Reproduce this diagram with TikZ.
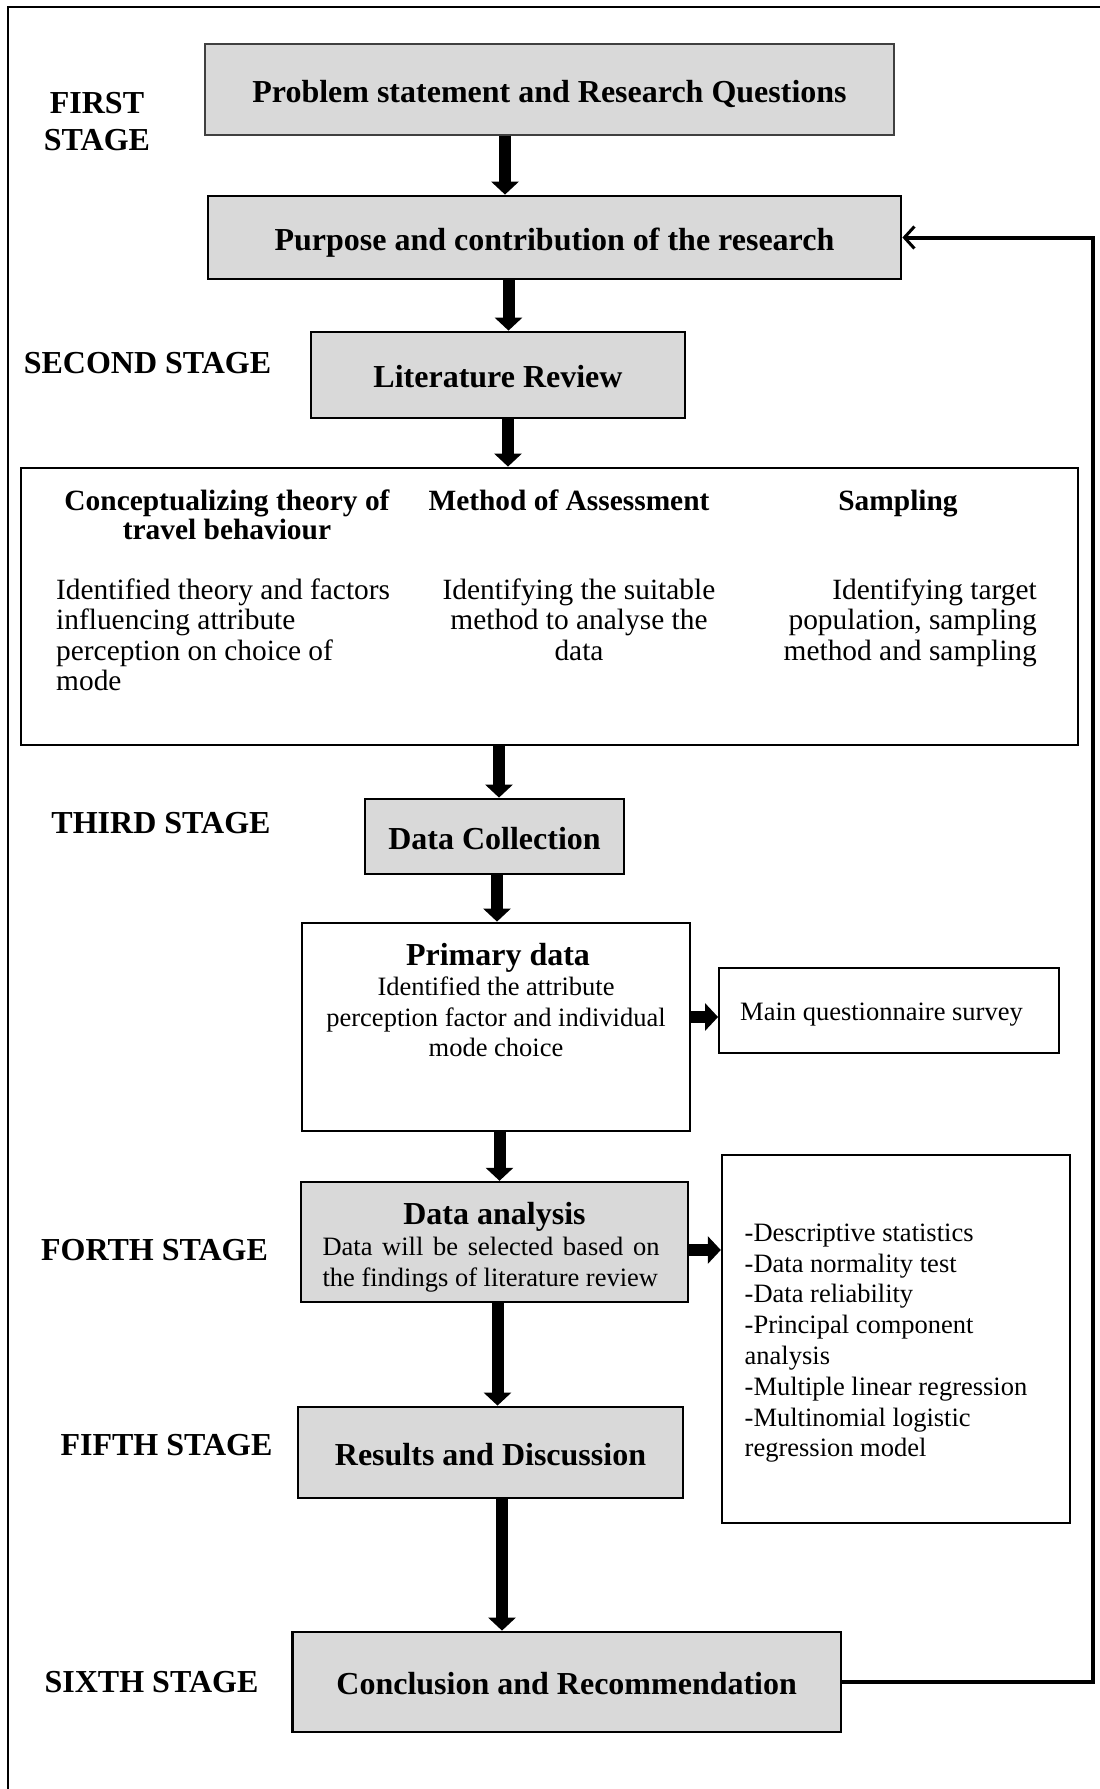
\documentclass[tikz,border=0pt]{standalone}
\usepackage{fontspec}
\setmainfont{Liberation Serif}
\usetikzlibrary{arrows.meta}
\definecolor{boxgray}{HTML}{D9D9D9}
\newcommand\fH{\fontsize{32}{29.5}\selectfont\bfseries}
\newcommand\fHb{\fontsize{29.4}{29.5}\selectfont\bfseries}
\newcommand\fB{\fontsize{29.4}{30.5}\selectfont}
\newcommand\fS{\fontsize{26.5}{30.5}\selectfont}
\begin{document}
\begin{tikzpicture}[x=1pt,y=-1pt,
  stagebox/.style={draw=black,line width=2.8pt,fill=boxgray,inner sep=0pt,font=\fH,align=center,text height=32pt,text depth=7pt},
  plainbox/.style={draw=black,line width=2.8pt,fill=white,inner sep=0pt},
  stagelabel/.style={inner sep=0pt,font=\fH,align=center},
  blk/.style={line width=12pt,-{Triangle[width=27pt,length=13pt]}},
  fb/.style={line width=4pt,-{Straight Barb[width=22pt,length=10pt,line width=3pt]}}]
\useasboundingbox (0,0) rectangle (1100,1789);
\fill[white] (0,0) rectangle (1100,1789);
% outer frame
\draw[line width=2.5pt] (8,1800) -- (8,7) -- (1110,7);

% boxes
\node[stagebox,draw=black!75,line width=1.8pt,minimum width=689pt,minimum height=91pt] (b1) at (549.5,89.5) {Problem statement and Research Questions};
\node[stagebox,minimum width=693pt,minimum height=83pt] (b2) at (554.5,237.5) {Purpose and contribution of the research};
\node[stagebox,minimum width=374pt,minimum height=86pt] (b3) at (498,375) {Literature Review};
\node[plainbox,minimum width=1057pt,minimum height=277pt] (big) at (549.5,606.5) {};
\node[stagebox,minimum width=259pt,minimum height=75pt] (dc) at (494.5,836.5) {Data Collection};
\node[plainbox,minimum width=388pt,minimum height=208pt] (pd) at (496,1027) {};
\node[plainbox,line width=2.4pt,minimum width=339.5pt,minimum height=85pt] (mq) at (889,1010.5) {};
\node[stagebox,line width=2.4pt,minimum width=387pt,minimum height=120pt] (da) at (494.5,1242) {};
\node[plainbox,line width=2.4pt,minimum width=348pt,minimum height=368pt] (lb) at (896,1339) {};
\node[stagebox,minimum width=385pt,minimum height=91pt] (rd) at (490.5,1452.5) {Results and Discussion};
\node[stagebox,minimum width=548.5pt,minimum height=100pt] (cr) at (566.7,1682) {Conclusion and Recommendation};

% stage labels
\node[stagelabel,font=\fontsize{32}{37.5}\selectfont\bfseries] (s1) at (97,121.5) {FIRST\\STAGE};
\node[stagelabel] (s2) at (147.5,363) {SECOND STAGE};
\node[stagelabel] (s3) at (161,823) {THIRD STAGE};
\node[stagelabel] (s4) at (154.5,1250) {FORTH STAGE};
\node[stagelabel] (s5) at (166.5,1445) {FIFTH STAGE};
\node[stagelabel] (s6) at (151.5,1682) {SIXTH STAGE};

% big box contents
\node[stagelabel,font=\fHb,anchor=north] (h1) at (227,489.5) {Conceptualizing theory of\\travel behaviour};
\node[stagelabel,font=\fHb,anchor=north] (h2) at (569,489.5) {Method of Assessment};
\node[stagelabel,font=\fHb,anchor=north] (h3) at (898,489.5) {Sampling};
\node[inner sep=0pt,anchor=north west,align=left,font=\fB] (t1) at (56,578.5) {Identified theory and factors\\influencing attribute\\perception on choice of\\mode};
\node[inner sep=0pt,anchor=north,align=center,font=\fB] (t2) at (579,578.5) {Identifying the suitable\\method to analyse the\\data};
\node[inner sep=0pt,anchor=north east,align=right,font=\fB] (t3) at (1037,578.5) {Identifying target\\population, sampling\\method and sampling};

% primary data contents
\node[stagelabel] (pdt) at (498,957.5) {Primary data};
\node[inner sep=0pt,anchor=north,align=center,font=\fS] (pdb) at (496,977) {Identified the attribute\\perception factor and individual\\mode choice};
\node[inner sep=0pt,anchor=west,font=\fS] (mqt) at (740,1015) {Main questionnaire survey};

% data analysis contents
\node[stagelabel] (dat) at (494.5,1216.5) {Data analysis};
\node[inner sep=0pt,anchor=north,align=left,font=\fS] (dab) at (491,1237) {\makebox[337pt][s]{Data will be selected based on}\\the findings of literature review};

% list
\node[inner sep=0pt,anchor=north west,align=left,font=\fontsize{26.5}{30.8}\selectfont] (lbt) at (744.5,1223.5) {-Descriptive statistics\\-Data normality test\\-Data reliability\\-Principal component\\analysis\\-Multiple linear regression\\-Multinomial logistic\\regression model};

% arrow x positions
\coordinate (a1) at (505,0);
\coordinate (a2) at (508.5,0);
\coordinate (a3) at (508,0);
\coordinate (a4) at (499,0);
\coordinate (a5) at (497,0);
\coordinate (a6) at (499.5,0);
\coordinate (a7) at (497.5,0);
\coordinate (a8) at (502,0);
\coordinate (hy1) at (0,1017);
\coordinate (hy2) at (0,1250);
\coordinate (fbx) at (1093,0);

\draw[blk] (b1.south -| a1) -- (b2.north -| a1);
\draw[blk] (b2.south -| a2) -- (b3.north -| a2);
\draw[blk] (b3.south -| a3) -- (big.north -| a3);
\draw[blk] (big.south -| a4) -- (dc.north -| a4);
\draw[blk] (dc.south -| a5) -- (pd.north -| a5);
\draw[blk] (pd.south -| a6) -- (da.north -| a6);
\draw[blk] (da.south -| a7) -- (rd.north -| a7);
\draw[blk] (rd.south -| a8) -- (cr.north -| a8);
\draw[blk] (pd.east |- hy1) -- (mq.west |- hy1);
\draw[blk] (da.east |- hy2) -- (lb.west |- hy2);

% feedback
\draw[fb] (cr.east) -- (cr.east -| fbx) -- (b2.east -| fbx) -- (b2.east);
\end{tikzpicture}
\end{document}
